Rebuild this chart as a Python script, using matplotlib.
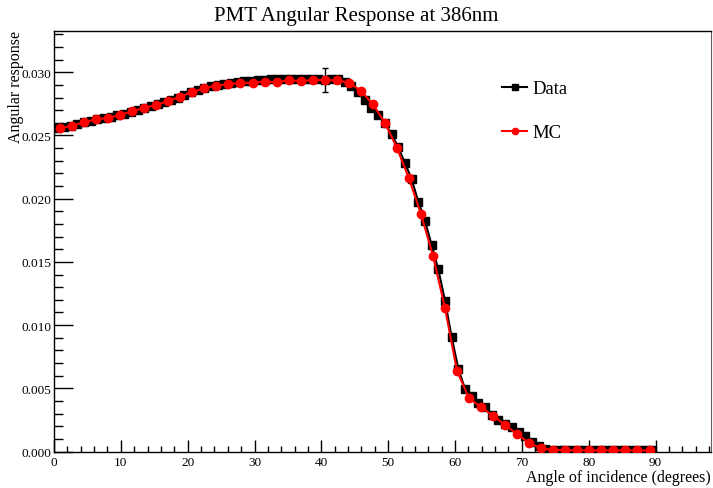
import numpy as np
import matplotlib
matplotlib.use("Agg")
import matplotlib.pyplot as plt
from matplotlib.ticker import MultipleLocator
from matplotlib.lines import Line2D

plt.rcParams['font.family'] = ['Liberation Serif', 'DejaVu Serif']

# Data: 1 degree bins, 0-90
data_angle = np.arange(0.5, 90, 1.0)  # bin centres
data_resp = [
    0.02560, 0.02568, 0.02578, 0.02590, 0.02604, 0.02617, 0.02628, 0.02638, 0.02648, 0.02660,
    0.02673, 0.02688, 0.02703, 0.02718, 0.02731, 0.02745, 0.02762, 0.02780, 0.02800, 0.02820,
    0.02840, 0.02858, 0.02874, 0.02888, 0.02898, 0.02907, 0.02916, 0.02924, 0.02930, 0.02934,
    0.02938, 0.02942, 0.02946, 0.02946, 0.02945, 0.02944, 0.02945, 0.02946, 0.02948, 0.02948,
    0.02940, 0.02948, 0.02945, 0.02920, 0.02890, 0.02840, 0.02780, 0.02720, 0.02665, 0.02600,
    0.02510, 0.02407, 0.02282, 0.02156, 0.01976, 0.01826, 0.01634, 0.01440, 0.01193, 0.00903,
    0.00653, 0.00494, 0.00441, 0.00384, 0.00350, 0.00290, 0.00249, 0.00218, 0.00191, 0.00152,
    0.00125, 0.00075, 0.00046, 0.00020, 0.00015, 0.00014, 0.00013, 0.00012, 0.00012, 0.00011,
    0.00011, 0.00010, 0.00010, 0.00010, 0.00009, 0.00009, 0.00009, 0.00009, 0.00008, 0.00008,
]
# only one visible error bar (40.5 deg)
data_err = [0.0] * 90
data_err[40] = 0.00095

# MC: 50 bins, 0-90
mc_angle = np.arange(0.9, 90, 1.8)  # bin centres
mc_resp = [
    0.02557, 0.02577, 0.02604, 0.02628, 0.02638, 0.02662, 0.02691, 0.02717, 0.02741, 0.02773,
    0.02806, 0.02844, 0.02873, 0.02894, 0.02905, 0.02915, 0.02917, 0.02926, 0.02922, 0.02935,
    0.02931, 0.02937, 0.02939, 0.02935, 0.02918, 0.02854, 0.02747, 0.02601, 0.02403, 0.02161,
    0.01879, 0.01549, 0.01135, 0.00637, 0.00421, 0.00350, 0.00283, 0.00210, 0.00136, 0.00067,
    0.00025, 0.00012, 0.00010, 0.00009, 0.00009, 0.00008, 0.00008, 0.00008, 0.00008, 0.00008,
]

fig = plt.figure(figsize=(7.13, 4.89), dpi=100)
ax = fig.add_axes([54/713, 36.5/489, 657/713, 421/489])

ax.errorbar(data_angle, data_resp, yerr=data_err, color="black", marker="s", ms=5.5,
            lw=1.5, elinewidth=1, capsize=2.2, zorder=2)
ax.plot(mc_angle, mc_resp, color="red", marker="o", ms=6, lw=1.5, zorder=3)

ax.set_xlim(0, 98.3)
ax.set_ylim(0, 0.0333)

ax.xaxis.set_major_locator(MultipleLocator(10))
ax.xaxis.set_minor_locator(MultipleLocator(2))
ax.yaxis.set_major_locator(MultipleLocator(0.005))
ax.yaxis.set_minor_locator(MultipleLocator(0.001))
ax.yaxis.set_major_formatter(plt.FormatStrFormatter("%.3f"))

ax.tick_params(axis="x", which="major", direction="in", length=9, width=1, labelsize=9.5, pad=3)
ax.tick_params(axis="x", which="minor", direction="in", length=4.5, width=1)
ax.tick_params(axis="y", which="major", direction="in", length=13.5, width=1, labelsize=9.5, pad=2)
ax.tick_params(axis="y", which="minor", direction="in", length=6.7, width=1)

for s in ["left", "bottom", "top"]:
    ax.spines[s].set_linewidth(1)
ax.spines["right"].set_color("#6b5b5b")

fig.text(356/713, 1 - 16/489, "PMT Angular Response at 386nm", ha="center", va="center", fontsize=15)
fig.text(16/713, 1 - 31/489, "Angular response", rotation=90, ha="center", va="top", fontsize=11.5)
fig.text(711/713, 1 - 478/489, "Angle of incidence (degrees)", ha="right", va="center", fontsize=11.5)

handles = [
    Line2D([], [], color="black", marker="s", ms=4, lw=1.5),
    Line2D([], [], color="red", marker="o", ms=4.5, lw=1.5),
]
ax.legend(handles, ["Data", "MC"], loc="upper left", bbox_to_anchor=(502/713, 1 - 81/489),
          bbox_transform=fig.transFigure, frameon=False, fontsize=13.4,
          handlelength=1.35, handletextpad=0.3, labelspacing=1.45, borderpad=0, borderaxespad=0)

plt.savefig("out.png", dpi=100)
